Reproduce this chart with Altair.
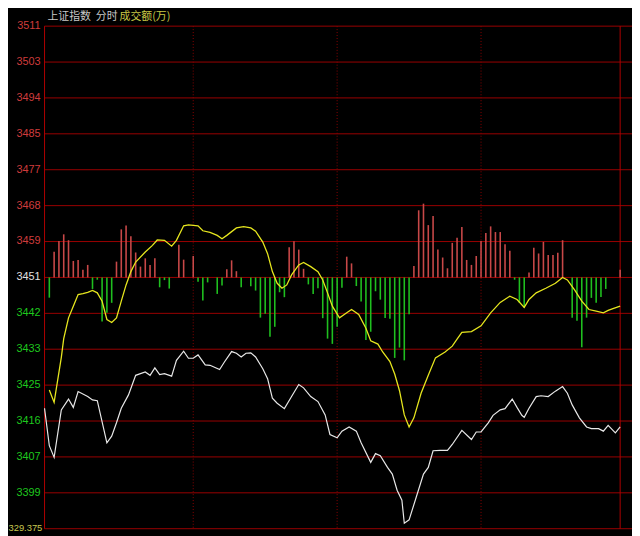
import altair as alt
import pandas as pd

# ---- data ----
price_minutes = [0, 2, 4, 7, 10, 12, 14, 18, 20, 22, 26, 28, 30, 32, 35, 38, 42, 44, 46, 48,
                 50, 53, 55, 58, 60, 62, 64, 67, 69, 73, 75, 78, 80, 82, 84, 86, 88, 91, 93, 95,
                 97, 100, 103, 106, 108, 111, 114, 117, 119, 122, 124, 127, 130, 132, 136, 138, 140, 143, 145, 147,
                 149, 150, 152, 155, 158, 160, 162, 165, 168, 170, 174, 178, 180, 182, 185, 187, 190, 192, 195, 197,
                 199, 200, 202, 205, 207, 210, 213, 216, 218, 220, 223, 226, 228, 231, 233, 235, 238, 240]
price_values = [3419.3, 3410.3, 3407.5, 3418.9, 3421.5, 3419.5, 3423.3, 3422.1, 3421.3, 3421.1,
                3411.0, 3412.6, 3415.8, 3419.3, 3422.5, 3427.2, 3428.0, 3427.2, 3429.0, 3427.4,
                3427.6, 3427.0, 3430.8, 3433.0, 3431.3, 3431.3, 3432.1, 3429.7, 3429.6, 3428.6,
                3430.4, 3432.9, 3432.5, 3431.6, 3432.5, 3432.6, 3431.6, 3428.8, 3426.4, 3421.7,
                3420.5, 3419.2, 3422.1, 3425.0, 3424.2, 3422.1, 3420.9, 3417.7, 3413.0, 3412.2,
                3413.8, 3414.8, 3413.8, 3411.0, 3406.3, 3408.4, 3407.9, 3405.1, 3403.5, 3399.6,
                3397.2, 3391.7, 3392.5, 3398.0, 3403.5, 3405.1, 3409.1, 3409.2, 3409.2, 3410.6,
                3414.0, 3411.8, 3413.6, 3413.6, 3415.8, 3417.6, 3418.9, 3419.2, 3421.5, 3419.5,
                3417.6, 3417.1, 3419.3, 3422.1, 3422.3, 3422.1, 3423.4, 3424.5, 3422.9, 3420.1,
                3417.0, 3414.8, 3414.4, 3414.4, 3413.8, 3415.2, 3413.4, 3414.8]

avg_minutes = [2, 4, 7, 8, 10, 12, 14, 16, 18, 20, 22, 24, 26, 28, 30, 32, 34, 36, 38, 42,
               45, 47, 50, 53, 55, 58, 60, 64, 66, 69, 72, 74, 76, 80, 83, 86, 88, 91, 93, 95,
               97, 99, 101, 103, 106, 108, 111, 114, 116, 118, 120, 123, 126, 128, 131, 134, 136, 139, 141, 144,
               146, 148, 150, 152, 154, 157, 160, 163, 167, 170, 172, 174, 178, 182, 186, 190, 194, 197, 200, 202,
               205, 209, 213, 216, 218, 221, 224, 227, 230, 233, 235, 237, 240]
avg_values = [3423.7, 3420.7, 3431.5, 3436.0, 3441.0, 3443.8, 3446.6, 3446.8, 3447.1, 3447.6,
              3447.0, 3445.0, 3440.6, 3439.9, 3441.0, 3445.0, 3448.9, 3452.1, 3454.4, 3456.8,
              3458.4, 3459.7, 3459.6, 3458.2, 3459.6, 3463.1, 3463.3, 3463.1, 3461.9, 3461.5,
              3460.8, 3460.0, 3460.8, 3462.6, 3462.9, 3462.6, 3461.8, 3459.2, 3456.4, 3452.1,
              3449.3, 3448.1, 3448.9, 3451.3, 3453.7, 3454.3, 3453.3, 3452.1, 3450.1, 3447.0,
              3443.8, 3441.0, 3442.2, 3443.0, 3441.8, 3438.5, 3435.5, 3434.7, 3432.8, 3430.5,
              3427.5, 3423.5, 3417.7, 3414.8, 3417.0, 3422.9, 3427.2, 3431.4, 3432.8, 3434.2,
              3435.9, 3437.5, 3437.7, 3439.1, 3442.2, 3444.7, 3446.2, 3445.4, 3443.5, 3445.4,
              3447.0, 3448.1, 3449.3, 3450.7, 3450.1, 3447.7, 3445.0, 3443.0, 3442.6, 3442.2,
              3442.8, 3443.2, 3443.8]

bar_minutes = [2, 4, 6, 8, 10, 12, 14, 16, 18, 20, 22, 24, 26, 28, 30, 32, 34, 36, 38, 40,
               42, 44, 46, 48, 50, 52, 56, 58, 62, 64, 66, 68, 72, 74, 76, 78, 80, 82, 86, 88,
               90, 92, 94, 96, 98, 100, 102, 104, 106, 108, 110, 112, 114, 116, 118, 120, 122, 124, 126, 128,
               130, 132, 134, 136, 138, 140, 142, 144, 146, 148, 150, 152, 154, 156, 158, 160, 162, 164, 166, 168,
               170, 172, 174, 176, 178, 180, 182, 184, 186, 188, 190, 192, 194, 196, 198, 200, 202, 204, 206, 208,
               210, 212, 214, 216, 220, 222, 224, 226, 228, 230, 232, 234, 240]
bar_volumes = [-26.5, 33.6, 47.9, 56.5, 48.8, 21.6, 22.9, 10.0, 16.4, -15.1,
               -3.0, -57.8, -46.2, -33.3, 20.7, 63.0, 68.2, 54.0, 32.7, 14.2,
               25.0, 16.4, 25.0, -12.9, -3.5, -14.6, 42.7, 23.3, 28.1, -5.6,
               -30.2, -6.5, -21.6, -10.7, 10.7, 22.4, 8.2, -12.9, -11.6, -17.2,
               -52.7, -47.5, -77.6, -64.7, -19.4, -25.9, 39.7, 47.5, 36.5, 11.3,
               -9.1, -21.6, -14.2, -53.4, -80.2, -87.1, -64.7, -13.6, 27.2, 18.4,
               -11.3, -31.7, -81.9, -71.2, -18.1, -29.1, -53.1, -54.3, -105.5, -91.9,
               -108.7, -48.1, 15.1, 88.0, 96.7, 68.6, 80.5, 36.6, 26.1, 12.0,
               45.3, 52.1, 66.0, 22.9, 16.4, 28.1, 47.9, 58.2, 66.9, 59.5,
               59.5, 43.6, 34.9, -3.0, -33.3, -39.7, 6.5, 38.8, 31.4, 46.6,
               29.4, 29.4, 32.4, 48.8, -52.7, -56.9, -91.5, -52.7, -26.8, -33.3,
               -25.5, -15.1, 10.0]

level_values = [3511.03, 3502.41, 3493.80, 3485.18, 3476.56, 3467.94, 3459.32, 3450.70,
                3442.08, 3433.47, 3424.85, 3416.23, 3407.61, 3398.99]
level_labels = ["3511", "3503", "3494", "3485", "3477", "3468", "3459", "3451",
                "3442", "3433", "3425", "3416", "3407", "3399"]
level_kinds = ["up"] * 7 + ["base"] + ["down"] * 6
bottom_level = 3390.375
volume_max_label = "329.375"

session_marks = [62, 122, 182]
frame_marks = [0, 240]
title_parts = ["上证指数", "分时", "成交额(万)"]

# ---- tables ----
price_df = pd.DataFrame({"minute": price_minutes, "value": price_values})
avg_df = pd.DataFrame({"minute": avg_minutes, "value": avg_values})
bar_df = pd.DataFrame({"minute": bar_minutes, "vol": bar_volumes})
bar_df["dir"] = ["up" if v > 0 else "down" for v in bar_volumes]
level_df = pd.DataFrame({"level": level_values, "label": level_labels, "kind": level_kinds})
grid_df = pd.DataFrame({"level": level_values + [bottom_level]})
sess_df = pd.DataFrame({"minute": session_marks})
frame_df = pd.DataFrame({"minute": frame_marks})

W, H = 595, 509
x_scale = alt.Scale(domain=[0, 244.94], nice=False, zero=False)
y_scale = alt.Scale(domain=[bottom_level, 3511.03], nice=False, zero=False)
v_scale = alt.Scale(domain=[-329.375, 329.375], nice=False, zero=False)

grid = alt.Chart(grid_df).mark_rule(color="#9a0000", strokeWidth=1).encode(
    y=alt.Y("level:Q", scale=y_scale, axis=None),
    x=alt.value(0), x2=alt.value(W))

sess = alt.Chart(sess_df).mark_rule(color="#8a0000", strokeWidth=1, strokeDash=[1, 2]).encode(
    x=alt.X("minute:Q", scale=x_scale, axis=None),
    y=alt.value(0), y2=alt.value(H))

frame = alt.Chart(frame_df).mark_rule(color="#b00000", strokeWidth=1).encode(
    x=alt.X("minute:Q", scale=x_scale, axis=None),
    y=alt.value(0), y2=alt.value(H))

bars = alt.Chart(bar_df).mark_rule(strokeWidth=1.6).encode(
    x=alt.X("minute:Q", scale=x_scale, axis=None),
    y=alt.Y("vol:Q", scale=v_scale, axis=None),
    y2=alt.datum(0),
    color=alt.Color("dir:N", scale=alt.Scale(domain=["up", "down"], range=["#c84848", "#1fbf1f"]), legend=None))

price_line = alt.Chart(price_df).mark_line(color="#e8e8e8", strokeWidth=1.2).encode(
    x=alt.X("minute:Q", scale=x_scale, axis=None),
    y=alt.Y("value:Q", scale=y_scale, axis=None))

avg_line = alt.Chart(avg_df).mark_line(color="#e6e61e", strokeWidth=1.3).encode(
    x=alt.X("minute:Q", scale=x_scale, axis=None),
    y=alt.Y("value:Q", scale=y_scale, axis=None))

labels = alt.Chart(level_df).mark_text(align="right", baseline="middle", font="Liberation Sans", fontSize=11).encode(
    x=alt.value(-4),
    y=alt.Y("level:Q", scale=y_scale, axis=None),
    text="label:N",
    color=alt.Color("kind:N", scale=alt.Scale(domain=["up", "base", "down"],
                                               range=["#d03c3c", "#e0e0e0", "#1ec81e"]), legend=None))

vol_label = alt.Chart(pd.DataFrame({"t": [volume_max_label]})).mark_text(
    align="left", baseline="bottom", font="Liberation Sans", fontSize=9.5, color="#c8c850"
).encode(text="t:N", x=alt.value(-36.5), y=alt.value(H + 4))

def title_piece(txt, xpos, col):
    return alt.Chart(pd.DataFrame({"t": [txt]})).mark_text(
        align="left", baseline="middle", font="Noto Sans CJK SC", fontSize=11, color=col
    ).encode(text="t:N", x=alt.value(xpos), y=alt.value(-9))

t1 = title_piece(title_parts[0], 3, "#c8c8c8")
t2 = title_piece(title_parts[1], 52, "#c8c8c8")
t3 = title_piece(title_parts[2], 76, "#c8c846")

chart = alt.layer(grid, sess, frame, bars, avg_line, price_line, labels, vol_label, t1, t2, t3).resolve_scale(
    y="independent", color="independent"
).properties(
    width=W, height=H,
    padding={"left": 37, "top": 15, "right": 0, "bottom": 4},
    autosize=alt.AutoSizeParams(type="none"),
    background="#000000",
).configure_view(strokeWidth=0)

chart.save("out.html", embed_options={"renderer": "svg", "actions": False})
